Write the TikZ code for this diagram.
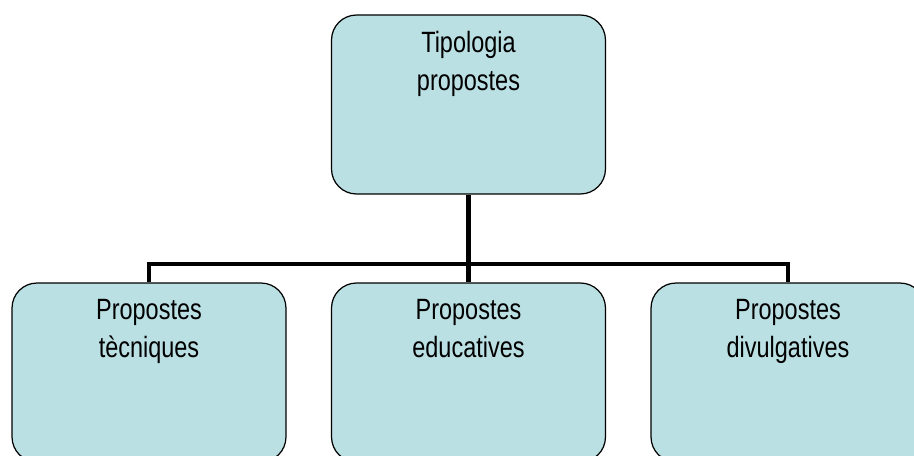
\documentclass[tikz,border=0pt]{standalone}
\usepackage{fontspec}
\setmainfont{Liberation Sans}
\newfontfamily\boxfont[FakeStretch=0.8]{Liberation Sans}
\usetikzlibrary{positioning}
\definecolor{boxfill}{RGB}{186,224,227}
\tikzset{
	box/.style={draw=black, line width=0.7pt, fill=boxfill, rounded corners=0.5cm, minimum width=5.48cm, minimum height=3.58cm, inner sep=0pt},
	txt/.style={align=center, inner sep=0pt, font=\boxfont\fontsize{16.7}{21.8}\selectfont},
	conn/.style={line width=2.8pt}
}
\begin{document}
\begin{tikzpicture}[x=0.02cm,y=-0.02cm]
	%frame
	\useasboundingbox (0,0) rectangle (914,456);
	\clip (0,0) rectangle (914,456);

	%boxes
	\node[box] (top) at (468.5,104.5) {};
	\node[box] (left) at (149,372.5) {};
	\node[box] (mid) at (468.5,372.5) {};
	\node[box] (right) at (788,372.5) {};

	%texts
	\node[txt, below=0.33cm of top.north] (toptxt) {Tipologia\\propostes};
	\node[txt, below=0.33cm of left.north] (lefttxt) {Propostes\\tècniques};
	\node[txt, below=0.33cm of mid.north] (midtxt) {Propostes\\educatives};
	\node[txt, below=0.33cm of right.north] (righttxt) {Propostes\\divulgatives};

	%connectors
	\coordinate (bar) at (468.5,264);
	\draw[conn] (top.south) -- (bar) -- (mid.north);
	\draw[conn] (bar) -| (left.north);
	\draw[conn] (bar) -| (right.north);
\end{tikzpicture}
\end{document}
